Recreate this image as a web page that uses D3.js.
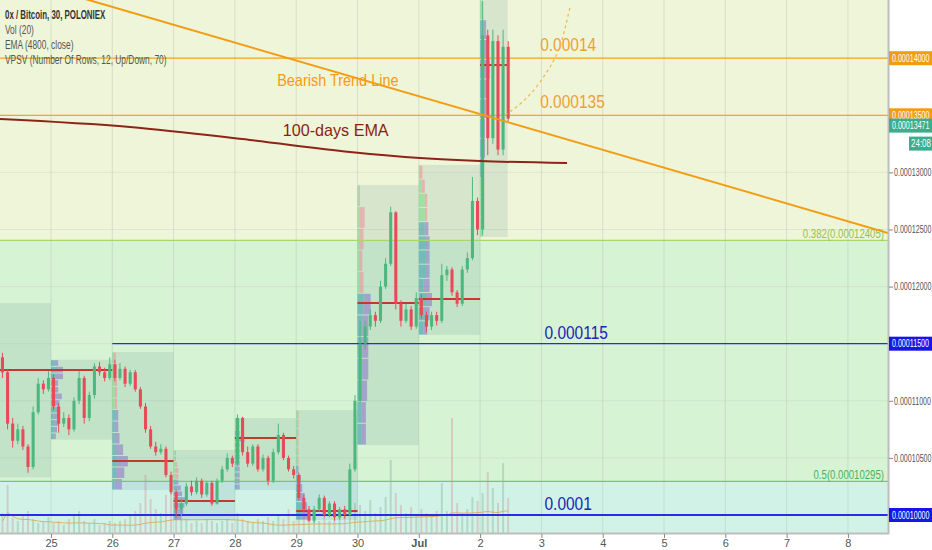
<!DOCTYPE html>
<html><head><meta charset="utf-8">
<script src="https://cdn.jsdelivr.net/npm/d3@7"></script>
<style>
html,body{margin:0;padding:0;background:#fff;}
svg{display:block;}
text{font-family:"Liberation Sans",Arial,sans-serif;}
</style></head>
<body>
<svg id="c" width="932" height="550"></svg>
<script>
// ---------- DATA (prices in 1e-8 BTC units) ----------
const firstOpen = 11380;
const closes = [11250,10800,10650,10750,10600,10420,10900,11150,11100,11200,
10950,10800,10850,10750,11000,11200,10850,11050,11300,11250,
11200,11320,11200,11280,11150,11250,11100,10950,10750,10600,
10550,10580,10350,10200,10050,10100,10250,10200,10300,10180,
10280,10100,10300,10400,10500,10450,10850,10550,10450,10600,
10400,10500,10300,10550,10700,10500,10400,10350,10150,10050,
9950,10050,10150,10000,10100,9980,10050,10000,10400,11000,
11500,11650,11750,11700,12000,12200,12650,11850,11700,11800,
11650,11900,11750,11650,11750,11700,12100,12150,11950,11850,
12150,12250,12750,12500,14200,13300,14150,13200,14100,13471];
const highs = [11420,11280,10850,10800,10780,10620,10950,11200,11180,11260,
11230,10980,10900,10880,11030,11260,11220,11080,11330,11340,
11290,11380,11360,11330,11300,11270,11270,11120,10980,10780,
10640,10620,10600,10380,10220,10150,10280,10300,10330,10320,
10300,10300,10320,10430,10540,10520,10880,10860,10600,10620,
10620,10530,10520,10580,10800,10720,10520,10430,10370,10180,
10080,10080,10180,10170,10120,10120,10070,10080,10450,11050,
11700,11700,11800,11780,12050,12250,12700,12660,11880,11850,
11830,11950,11930,11780,11780,11780,12200,12180,12170,11970,
12180,12300,12960,12780,14500,14250,14250,14200,14250,14150];
const lows = [11200,10750,10590,10620,10570,10370,10400,10880,11060,11080,
10920,10720,10770,10700,10730,10970,10800,10820,11020,11220,
11170,11180,11170,11180,11120,11130,11080,10930,10720,10580,
10520,10530,10330,10180,9980,9990,10080,10170,10180,10150,
10160,10080,10090,10280,10380,10420,10430,10520,10420,10430,
10380,10380,10260,10280,10530,10480,10380,10320,10130,10020,
9940,9930,10030,9980,9980,9950,9960,9970,9990,10380,
10980,11450,11620,11650,11680,11980,12180,11800,11650,11680,
11620,11630,11720,11600,11620,11660,11680,12050,11920,11820,
11830,12120,12230,12450,12450,13150,13250,13150,13150,13450];
const volumes = [20,48,15,12,18,22,14,10,12,16,
10,12,8,14,18,22,12,10,14,8,10,12,
10,12,14,18,22,30,58,34,24,20,38,45,
30,18,14,10,12,10,14,12,10,12,14,10,
20,14,12,10,14,12,16,12,18,14,24,12,
20,18,22,14,12,16,12,14,18,22,32,30,
28,22,33,20,26,36,73,40,28,20,26,18,
24,20,18,22,50,22,115,30,20,24,36,32,
40,61,45,30,70,35];
const candleStartDay = 0.1667;   // 24 Jun 04:00
const candleHours = 2;

// time axis (days since 24 Jun 00:00)
const tickDays = [1,2,3,4,5,6,7,8,9,10,11,12,13,14];
const tickLabels = ["25","26","27","28","29","30","Jul","2","3","4","5","6","7","8"];
const priceTicks = [10000,10500,11000,11500,12000,12500,13000,13500,14000];

// EMA (4800, close)
const emaDays = [0.168,2.289,4.246,5.878,7.02,8.0,9.418];
const emaVals = [13468,13398,13284,13179,13126,13100,13082];

// VPSV sessions
const sessDay  = [0,1,2,3,4,5,6,7,8];
const sessEnd  = [1,2,3,4,5,6,7,8,8.45];
const sessHigh = [11856,11360,11427,10569,10849,10919,12890,13065,14510];
const sessLow  = [10330,10660,10219,9956,10219,9956,10613,11576,12434];
const sessPOC  = [11270,11270,10473,10123,10674,10035,11856,11891,13940];
const vaLo = [0,0,0,0,0,0,0,0,3];
const vaHi = [8,11,6,6,9,5,6,7,10];
const profUp = [
 [0,0,0,0,0,0,0,0,0,0,0,0],
 [2,3,3,2,4,3,4,3,2,4,5,3],
 [2,3,4,3,2,2,3,2,2,2,2,1],
 [3,4,4,5,3,3,2,2,2,2,1,1],
 [2,2,2,2,2,2,2,2,4,2,2,2],
 [5,4,3,2,2,1,1,1,1,1,1,1],
 [3,3,3,4,4,4,5,2,2,2,2,1],
 [4,5,6,4,6,6,6,5,5,5,2,1],
 [1,1,2,2,2,2,2,2,3,2,2,1]];
const profDown = [
 [0,0,0,0,0,0,0,0,0,0,0,0],
 [2,2,3,4,3,4,5,3,4,6,5,3],
 [6,7,9,6,4,3,2,2,2,2,2,2],
 [3,4,5,5,4,3,2,2,2,1,1,1],
 [2,2,2,2,2,2,2,2,4,2,2,2],
 [6,5,4,3,2,1,1,1,1,1,1,1],
 [4,4,5,5,5,5,6,3,2,3,4,1],
 [3,4,5,5,3,3,3,3,2,2,3,2],
 [1,1,1,1,2,2,3,4,5,4,3,1]];

// levels
const fibLevels = [{name:"0.382", price:12405, color:"#a9d66b", text:"#8fc14f"},
                   {name:"0.5",   price:10295, color:"#5fd36e", text:"#45b455"}];
const orangeLevels = [14000, 13500];
const orangeLabels = ["0.00014", "0.000135"];
const blueLevels = [11500, 10000];
const blueLabels = ["0.000115", "0.0001"];
const blueStartDay = [2, 0.168];
const trendDays = [0, 14.654];
const trendVals = [14762, 12470];
const arcDays = [8.406,8.765,9.091,9.303,9.418,9.467];
const arcVals = [13503,13634,13871,14072,14335,14449];
const lastPrice = 13471;
const countdown = "24:08";
const legendLines = ["0x / Bitcoin, 30, POLONIEX","Vol (20)","EMA (4800, close)","VPSV (Number Of Rows, 12, Up/Down, 70)"];

// ---------- DRAW ----------
const W = 932, H = 550, PW = 888, PH = 533;
const svg = d3.select("#c");
const x = d3.scaleLinear().domain([0.168, 14.654]).range([0, PW]);
const y = d3.scaleLinear().domain([10000, 14000]).range([515, 58.2]);
const vy = d3.scaleLinear().domain([0, 115]).range([PH, 418]);
const pw = d3.scaleLinear().domain([0, 10]).range([0, 12]);
const fmt = v => (v/1e8).toFixed(8);
function squeeze(sel, f){
  sel.each(function(){
    const w = this.getComputedTextLength();
    d3.select(this).attr("textLength", w*f).attr("lengthAdjust","spacingAndGlyphs");
  });
  return sel;
}

svg.append("defs").append("clipPath").attr("id","clip")
  .append("rect").attr("x",0).attr("y",0).attr("width",PW).attr("height",PH);
const g = svg.append("g").attr("clip-path","url(#clip)");

// background zones
const yF382 = y(fibLevels[0].price), yF5 = y(fibLevels[1].price);
g.append("rect").attr("x",0).attr("y",0).attr("width",PW).attr("height",yF382).attr("fill","#eff5d8");
g.append("rect").attr("x",0).attr("y",yF382).attr("width",PW).attr("height",yF5-yF382).attr("fill","#d6f3d3");
g.append("rect").attr("x",0).attr("y",yF5).attr("width",PW).attr("height",PH-yF5).attr("fill","#d1f3e7");

// grid
g.selectAll(".vg").data(tickDays).enter().append("line")
  .attr("x1",d=>x(d)).attr("x2",d=>x(d)).attr("y1",0).attr("y2",PH)
  .attr("stroke","#a9b8a9").attr("stroke-opacity",0.35).attr("stroke-width",1);
g.selectAll(".hg").data(priceTicks).enter().append("line")
  .attr("x1",0).attr("x2",PW).attr("y1",d=>y(d)).attr("y2",d=>y(d))
  .attr("stroke","#b8c8b8").attr("stroke-opacity",0.3).attr("stroke-width",1);

// candles data
const candles = closes.map((c,i)=>{
  const o = i===0 ? firstOpen : closes[i-1];
  const t0 = candleStartDay + i*candleHours/24;
  return {o, c, h:highs[i], l:lows[i], v:volumes[i], t:t0 + candleHours/48};
});
const cw = x(candleHours/24) - x(0);

// volume
g.selectAll(".vol").data(candles).enter().append("rect")
  .attr("x",d=>x(d.t)-1).attr("width",2)
  .attr("y",d=>vy(d.v)).attr("height",d=>PH-vy(d.v))
  .attr("fill",d=>d.c>=d.o?"#8fb8a0":"#cfa0a4").attr("opacity",0.45);
const ma = candles.map((d,i)=>{
  const s = candles.slice(Math.max(0,i-19), i+1);
  return {t:d.t, v:d3.mean(s, e=>e.v)*0.6};
});
g.append("path").datum(ma).attr("fill","none").attr("stroke","#e0a850").attr("stroke-width",1).attr("opacity",0.85)
  .attr("d", d3.line().x(d=>x(d.t)).y(d=>vy(d.v)));

// session boxes
const sess = sessDay.map((d,i)=>({d, e:sessEnd[i], hi:sessHigh[i], lo:sessLow[i], poc:sessPOC[i], up:profUp[i], dn:profDown[i], vl:vaLo[i], vh:vaHi[i]}));
g.selectAll(".box").data(sess).enter().append("rect")
  .attr("x",d=>x(d.d)).attr("width",d=>x(d.e)-x(d.d))
  .attr("y",d=>y(d.hi)).attr("height",d=>y(d.lo)-y(d.hi))
  .attr("fill","#5a8a96").attr("opacity",0.15);

// profiles
sess.forEach(s=>{
  const rh = (s.hi - s.lo)/12;
  s.up.forEach((u,r)=>{
    const inVA = r>=s.vl && r<=s.vh;
    const y0 = y(s.lo + (r+1)*rh), y1 = y(s.lo + r*rh);
    const x0 = x(s.d);
    g.append("rect").attr("x",x0).attr("y",y0+0.5).attr("width",pw(u)).attr("height",Math.max(0,y1-y0-1))
      .attr("fill", inVA ? "#2f9fa8" : "#70df7c").attr("opacity",0.55);
    g.append("rect").attr("x",x0+pw(u)).attr("y",y0+0.5).attr("width",pw(s.dn[r])).attr("height",Math.max(0,y1-y0-1))
      .attr("fill", inVA ? "#8a6fc8" : "#ee8c98").attr("opacity",0.55);
  });
});

// fib lines
fibLevels.forEach(f=>{
  g.append("line").attr("x1",0).attr("x2",PW).attr("y1",y(f.price)).attr("y2",y(f.price))
    .attr("stroke",f.color).attr("stroke-width",1.2);
  const t = g.append("text").attr("x",PW-4).attr("y",y(f.price)-2).attr("text-anchor","end")
    .attr("font-size",12).attr("fill",f.text).text(`${f.name}(${fmt(f.price)})`);
  squeeze(t, 0.8);
});

// orange horizontal levels
orangeLevels.forEach((p,i)=>{
  g.append("line").attr("x1",0).attr("x2",PW).attr("y1",y(p)).attr("y2",y(p))
    .attr("stroke","#f5a623").attr("stroke-width",1.2);
  const t = g.append("text").attr("x",x(8.98)).attr("y",y(p)-7).attr("font-size",18).attr("fill","#f0a030").text(orangeLabels[i]);
  squeeze(t, 0.86);
});

// blue levels
blueLevels.forEach((p,i)=>{
  g.append("line").attr("x1",x(blueStartDay[i])).attr("x2",PW).attr("y1",y(p)).attr("y2",y(p))
    .attr("stroke","#2a2ae8").attr("stroke-width", i===1?2:1.2);
  const t = g.append("text").attr("x",x(9.05)).attr("y",y(p)-5).attr("font-size",18).attr("fill","#2323b8").text(blueLabels[i]);
  squeeze(t, 0.86);
});

// POC lines
g.selectAll(".poc").data(sess).enter().append("line")
  .attr("x1",d=>x(d.d)).attr("x2",d=>x(d.e)).attr("y1",d=>y(d.poc)).attr("y2",d=>y(d.poc))
  .attr("stroke","#c23a2e").attr("stroke-width",2);

// candles
const up = "#4cb87e", dn = "#e84a57";
const cg = g.append("g");
cg.selectAll(".wick").data(candles).enter().append("line")
  .attr("x1",d=>x(d.t)).attr("x2",d=>x(d.t)).attr("y1",d=>y(d.h)).attr("y2",d=>y(d.l))
  .attr("stroke",d=>d.c>=d.o?up:dn).attr("stroke-width",1);
cg.selectAll(".body").data(candles).enter().append("rect")
  .attr("x",d=>x(d.t)-cw*0.3).attr("width",cw*0.6)
  .attr("y",d=>y(Math.max(d.o,d.c))).attr("height",d=>Math.max(1,Math.abs(y(d.o)-y(d.c))))
  .attr("fill",d=>d.c>=d.o?up:dn);

// EMA
g.append("path").datum(emaDays.map((t,i)=>({t, v:emaVals[i]})))
  .attr("fill","none").attr("stroke","#8e2418").attr("stroke-width",2)
  .attr("d", d3.line().x(d=>x(d.t)).y(d=>y(d.v)).curve(d3.curveMonotoneX));

// trend line
g.append("line").attr("x1",x(trendDays[0])).attr("y1",y(trendVals[0]))
  .attr("x2",x(trendDays[1])).attr("y2",y(trendVals[1]))
  .attr("stroke","#f39c12").attr("stroke-width",2);

// dashed projection
g.append("path").datum(arcDays.map((t,i)=>({t, v:arcVals[i]})))
  .attr("fill","none").attr("stroke","#f5b44a").attr("stroke-width",1.2).attr("stroke-dasharray","3,3")
  .attr("d", d3.line().x(d=>x(d.t)).y(d=>y(d.v)).curve(d3.curveBasis));

// annotations
squeeze(g.append("text").attr("x",x(4.69)).attr("y",y(13760)).attr("font-size",17).attr("fill","#f39c12").text("Bearish Trend Line"), 0.85);
squeeze(g.append("text").attr("x",x(4.78)).attr("y",y(13320)).attr("font-size",17).attr("fill","#8b1e14").text("100-days EMA"), 0.95);

// legend
legendLines.forEach((s,i)=>{
  const t = svg.append("text").attr("x",5).attr("y",19+i*15).attr("font-size",12.5)
    .attr("fill", i===0?"#333":"#555").attr("font-weight", i===0?"bold":"normal").text(s);
  squeeze(t, i===0?0.63:0.67);
});

// price axis
svg.append("rect").attr("x",PW).attr("y",0).attr("width",W-PW).attr("height",H).attr("fill","#fff");
svg.append("rect").attr("x",0).attr("y",PH).attr("width",W).attr("height",H-PH).attr("fill","#fff");
svg.append("line").attr("x1",PW+0.5).attr("x2",PW+0.5).attr("y1",0).attr("y2",PH+1).attr("stroke","#bdbdbd").attr("stroke-width",2);
svg.append("line").attr("x1",0).attr("x2",PW+1).attr("y1",PH+0.5).attr("y2",PH+0.5).attr("stroke","#bdbdbd").attr("stroke-width",2);

const tagged = [14000,13500,11500,10000];
const yAxis = d3.axisRight(y).tickValues(priceTicks.filter(v=>!tagged.includes(v))).tickSize(4).tickFormat(fmt);
const ya = svg.append("g").attr("transform",`translate(${PW+1},0)`).call(yAxis);
ya.select(".domain").remove();
ya.selectAll("line").attr("stroke","#888");
ya.selectAll("text").attr("font-size",10).attr("fill","#555").attr("x",5)
  .style("font-family",'"Liberation Sans",Arial,sans-serif');
squeeze(ya.selectAll("text"), 0.71);

const xAxis = d3.axisBottom(x).tickValues(tickDays).tickSize(4).tickFormat((d,i)=>tickLabels[i]);
const xa = svg.append("g").attr("transform",`translate(0,${PH+1})`).call(xAxis);
xa.select(".domain").remove();
xa.selectAll("line").attr("stroke","#888");
xa.selectAll("text").attr("font-size",11).attr("fill","#555").attr("dy","0.55em")
  .attr("font-weight",(d,i)=>tickLabels[i]==="Jul"?"bold":"normal")
  .style("font-family",'"Liberation Sans",Arial,sans-serif');

// price tags
function tag(p, bg, txt, dy){
  const yy = y(p) + (dy||0);
  svg.append("rect").attr("x",PW+1).attr("y",yy-7).attr("width",W-PW-1).attr("height",14).attr("fill",bg);
  squeeze(svg.append("text").attr("x",PW+4).attr("y",yy+3.5).attr("font-size",10).attr("fill","#fff").text(txt), 0.71);
}
tag(14000, "#f39c12", fmt(14000));
tag(13500, "#f39c12", fmt(13500));
tag(lastPrice, "#3bae8c", fmt(lastPrice), 7);
tag(11500, "#1616e6", fmt(11500));
tag(10000, "#1616e6", fmt(10000));
const cdY = y(lastPrice)+25;
svg.append("rect").attr("x",909).attr("y",cdY-7).attr("width",23).attr("height",14).attr("fill","#3bae8c");
squeeze(svg.append("text").attr("x",911).attr("y",cdY+3.5).attr("font-size",10).attr("fill","#fff").text(countdown), 0.8);
</script>
</body></html>
